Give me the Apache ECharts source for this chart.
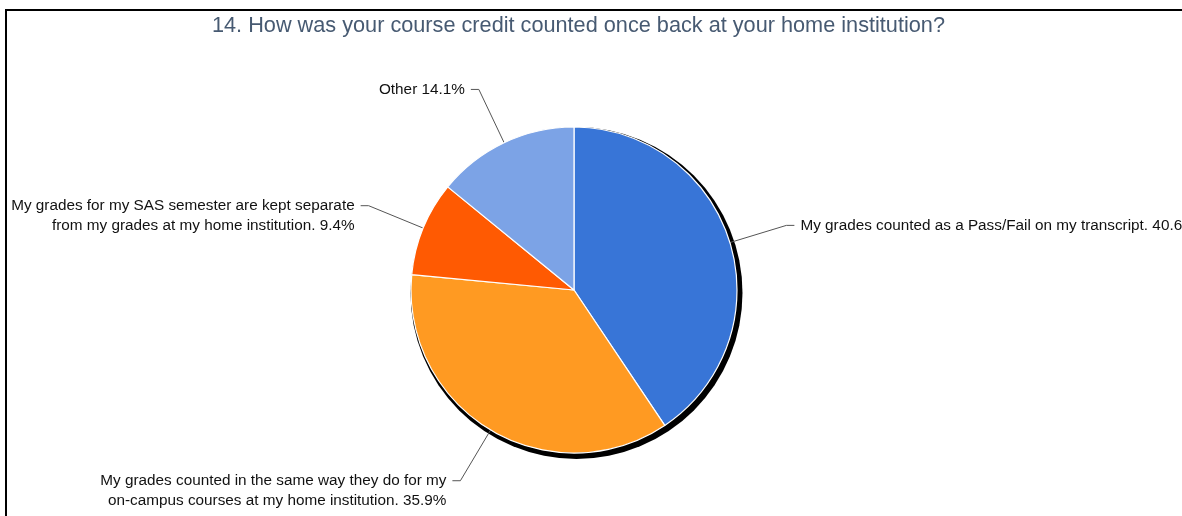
<!DOCTYPE html>
<html>
<head>
<meta charset="utf-8">
<script src="https://cdn.jsdelivr.net/npm/echarts@6/dist/echarts.min.js"></script>
<style>
  html, body { margin: 0; padding: 0; background: #fff; }
  #chart { width: 1182px; height: 516px; }
</style>
</head>
<body>
<div id="chart"></div>
<script>
// Survey question 14: how course credit was counted at the home institution
const titleText = '14. How was your course credit counted once back at your home institution?';
const categories = [
  'My grades counted as a Pass/Fail on my transcript.',
  'My grades counted in the same way they do for my\non-campus courses at my home institution.',
  'My grades for my SAS semester are kept separate\nfrom my grades at my home institution.',
  'Other'
];
const percents = [40.6, 35.9, 9.4, 14.1];
const sliceColors = ['#3875D7', '#FF9A22', '#FF5A02', '#7CA3E6'];

const total = percents.reduce((a, b) => a + b, 0);

// Two-line labels get an empty leading line so the first text line sits level with the leader line
function labelText(p) {
  const txt = p.name + ' ' + p.value.toFixed(1) + '%';
  return p.name.indexOf('\n') >= 0 ? '\n' + txt : txt;
}

const chart = echarts.init(document.getElementById('chart'), null, { renderer: 'canvas' });

chart.setOption({
  animation: false,
  backgroundColor: '#ffffff',
  title: {
    text: titleText,
    left: 207,
    top: 10,
    textStyle: {
      fontFamily: 'Liberation Sans, Arial, sans-serif',
      fontSize: 21.7,
      fontWeight: 'normal',
      color: '#475A72'
    }
  },
  graphic: [{
    type: 'rect',
    silent: true,
    shape: { x: 6, y: 10, width: 1400, height: 700 },
    style: { fill: 'none', stroke: '#000', lineWidth: 2 }
  }],
  series: [
    {
      // dark offset disc giving the pie its edge shadow
      type: 'pie',
      silent: true,
      center: [576.5, 293],
      radius: 166,
      label: { show: false },
      labelLine: { show: false },
      itemStyle: { color: '#000', borderWidth: 0 },
      data: [{ value: total, name: 'shadow' }],
      z: 1
    },
    {
      type: 'pie',
      center: [574, 290],
      radius: 163,
      startAngle: 90,
      clockwise: true,
      z: 2,
      itemStyle: { borderColor: '#ffffff', borderWidth: 1.2 },
      label: {
        show: true,
        position: 'outside',
        fontFamily: 'Liberation Sans, Arial, sans-serif',
        fontSize: 15.3,
        lineHeight: 20.5,
        color: '#111',
        width: 600,
        overflow: 'none',
        distanceToLabelLine: 6,
        formatter: labelText
      },
      labelLine: {
        show: true,
        length: 59,
        length2: 8,
        smooth: false,
        lineStyle: { color: '#555', width: 1 }
      },
      data: categories.map((name, i) => ({
        name: name,
        value: percents[i],
        itemStyle: { color: sliceColors[i] }
      }))
    }
  ]
});
</script>
</body>
</html>
